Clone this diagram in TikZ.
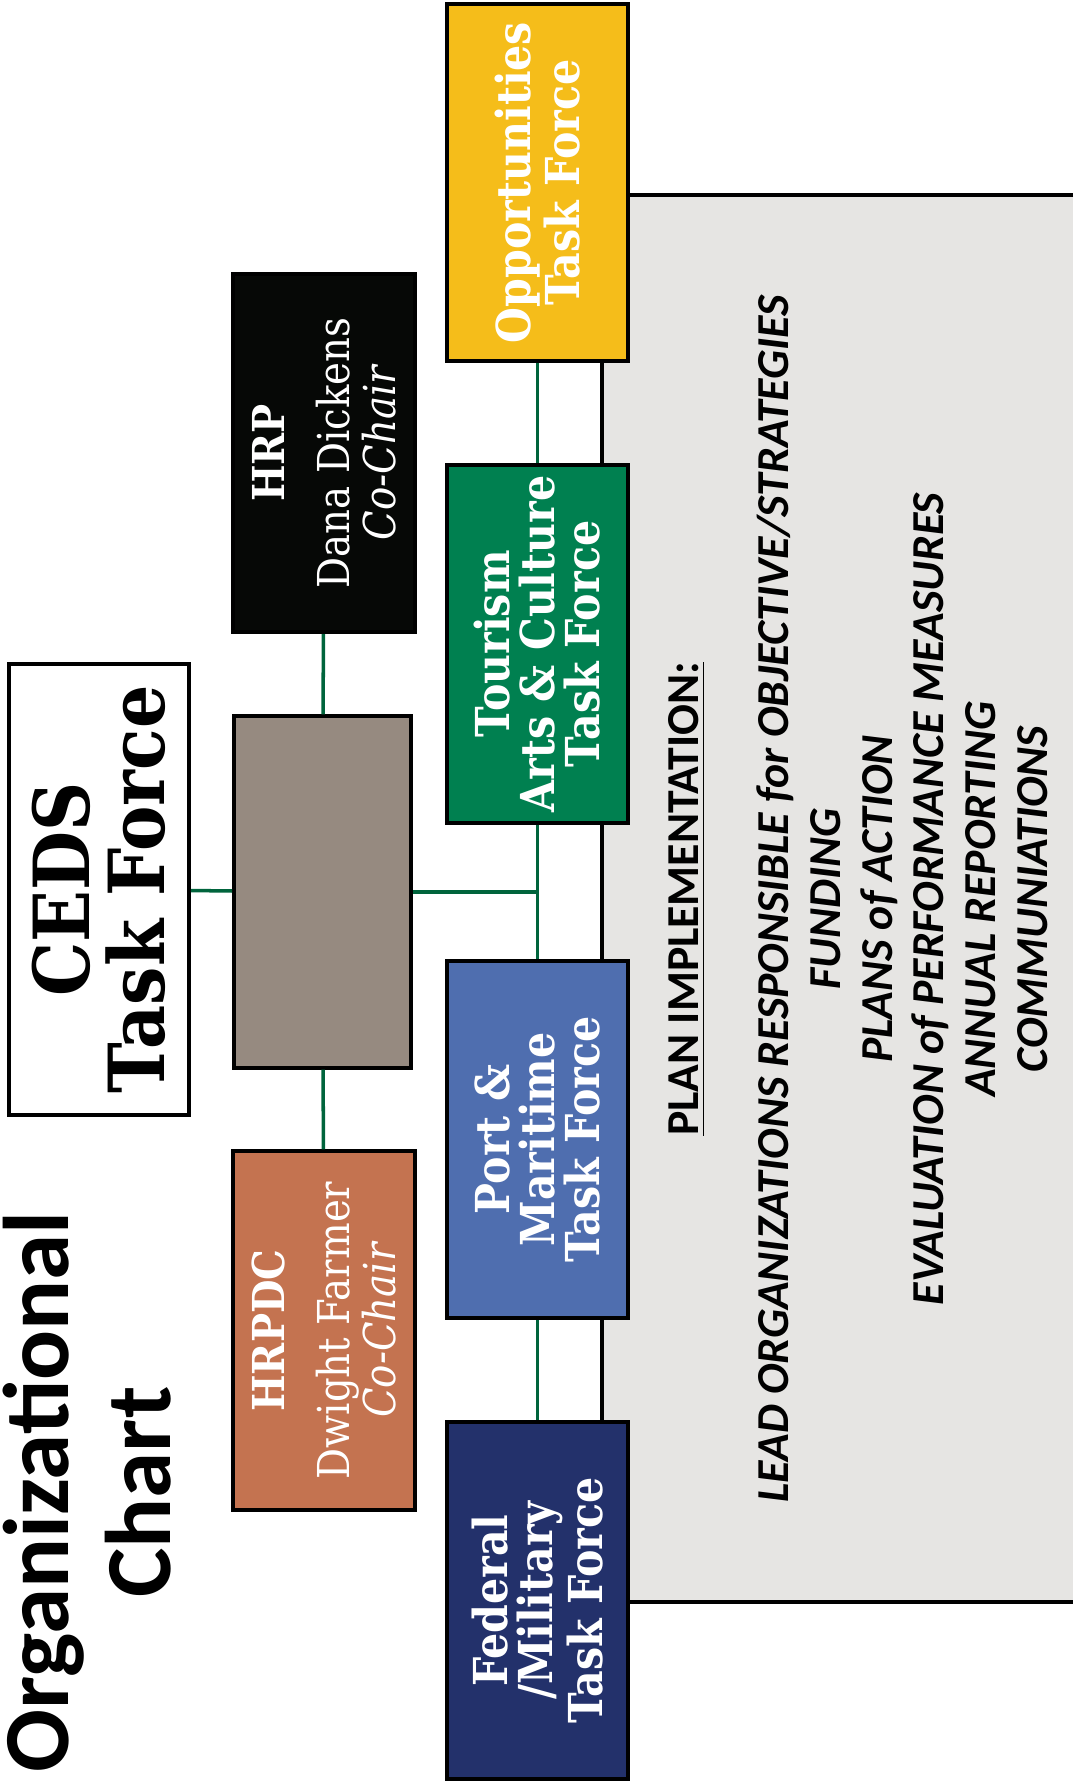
\documentclass[tikz,border=0pt]{standalone}
\usepackage{fontspec}
\setmainfont{DejaVu Serif}[FakeStretch=0.88]
\newfontfamily\titlefont{Carlito}
\newfontfamily\panelfont{Carlito}

\definecolor{oppyellow}{RGB}{245,189,26}
\definecolor{tourgreen}{RGB}{0,128,80}
\definecolor{portblue}{RGB}{79,110,175}
\definecolor{fednavy}{RGB}{35,49,107}
\definecolor{hrpdcorange}{RGB}{196,115,80}
\definecolor{hrpblack}{RGB}{6,8,6}
\definecolor{corebrown}{RGB}{150,138,128}
\definecolor{panelgrey}{RGB}{230,229,227}
\definecolor{linkgreen}{RGB}{0,100,60}

\tikzset{
  taskbox/.style={draw=black, line width=1.1pt, rotate=90, align=center, inner sep=0pt,
    minimum width=3.57cm, minimum height=1.81cm, text=white,
    font=\bfseries\fontsize{13.3}{12.8}\selectfont},
  chairbox/.style={draw=black, line width=1.1pt, rotate=90, align=center, inner sep=0pt,
    minimum width=3.58cm, minimum height=1.82cm, text=white,
    font=\fontsize{12.5}{13}\selectfont},
  link/.style={draw=linkgreen, line width=1pt},
}

\begin{document}
\begin{tikzpicture}[x={(0.01cm,0)}, y={(0,-0.01cm)}]
\useasboundingbox (0,0) rectangle (1073,1789);

% Plan implementation panel
\fill[panelgrey] (602,195) rectangle (1073,1602);
\draw[line width=1.4pt] (1073,195) -- (602,195) -- (602,1602) -- (1073,1602);
\node[rotate=90, align=center, inner sep=0pt, font=\panelfont\bfseries\fontsize{13}{14.7}\selectfont]
  (plan) at (858,899) {\underline{PLAN IMPLEMENTATION:}\\[11pt]
  \itshape LEAD ORGANIZATIONS RESPONSIBLE for OBJECTIVE/STRATEGIES\\
  \itshape FUNDING\\
  \itshape PLANS of ACTION\\
  \itshape EVALUATION of PERFORMANCE MEASURES\\
  \itshape ANNUAL REPORTING\\
  \itshape COMMUNIATIONS};

% Title
\node[rotate=90, align=center, inner sep=0pt, font=\titlefont\bfseries\fontsize{26.5}{29}\selectfont]
  (title) at (87,1492) {Organizational\\Chart};

% Top level
\node[draw=black, line width=1.1pt, fill=white, rotate=90, align=center, inner sep=0pt,
  minimum width=4.51cm, minimum height=1.80cm, font=\bfseries\fontsize{22}{21.3}\selectfont]
  (ceds) at (99,889.5) {CEDS\\Task Force};
\node[draw=black, line width=1.1pt, fill=corebrown, minimum width=1.77cm, minimum height=3.51cm]
  (core) at (322.5,892) {};

% Co-chairs
\node[chairbox, fill=hrpblack] (hrp) at (324,453)
  {\bfseries HRP\\[5.5pt] Dana Dickens\\ \itshape Co-Chair};
\node[chairbox, fill=hrpdcorange] (hrpdc) at (324,1330.5)
  {\bfseries HRPDC\\[5.5pt] Dwight Farmer\\ \itshape Co-Chair};

% Task forces
\node[taskbox, fill=oppyellow] (opp) at (537.5,182.5) {Opportunities\\Task Force};
\node[taskbox, fill=tourgreen] (tour) at (537.5,644) {Tourism\\Arts \& Culture\\Task Force};
\node[taskbox, fill=portblue] (port) at (537.5,1139.5) {Port \&\\Maritime\\Task Force};
\node[taskbox, fill=fednavy] (fed) at (537.5,1600.5) {Federal\\/Military\\Task Force};

% Connectors
\coordinate (bus) at (core -| tour);
\draw[link] (ceds) -- (core);
\draw[link] (core) -- (hrp);
\draw[link] (core) -- (hrpdc);
\draw[link] (core) -- (bus);
\draw[link] (opp) -- (tour);
\draw[link] (tour) -- (port);
\draw[link] (port) -- (fed);
\end{tikzpicture}
\end{document}
